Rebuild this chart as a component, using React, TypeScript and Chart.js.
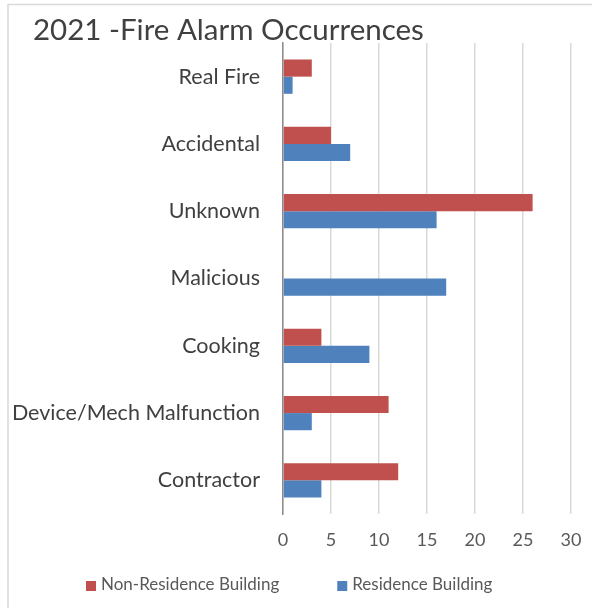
import { useEffect, useRef } from "react";
import { Chart, registerables } from "chart.js";

Chart.register(...registerables);

const TITLE = "2021 -Fire Alarm Occurrences";
const categories = [
  "Real Fire",
  "Accidental",
  "Unknown",
  "Malicious",
  "Cooking",
  "Device/Mech Malfunction",
  "Contractor",
];
const nonResidence = [3, 5, 26, 0, 4, 11, 12];
const residence = [1, 7, 16, 17, 9, 3, 4];
const seriesNames = ["Non-Residence Building", "Residence Building"];
const seriesColors = ["#C0504D", "#4F81BD"];
const xMin = 0;
const xMax = 30;
const xStep = 5;

const FONT = "Lato";

const decor = {
  id: "decor",
  beforeDraw(chart: any) {
    const ctx = chart.ctx;
    ctx.save();
    ctx.strokeStyle = "#d9d9d9";
    ctx.lineWidth = 1.5;
    ctx.strokeRect(8, 4.5, 700, 700);
    ctx.restore();
  },
  afterDraw(chart: any) {
    const ctx = chart.ctx;
    ctx.save();
    // title
    ctx.fillStyle = "#404040";
    ctx.font = `29.5px ${FONT}`;
    ctx.textBaseline = "alphabetic";
    ctx.textAlign = "left";
    ctx.fillText(TITLE, 33, 40);
    // legend
    ctx.font = `17px ${FONT}`;
    ctx.textBaseline = "middle";
    const box = 10;
    const gapBoxText = 5;
    const gapItems = 58;
    const ds = chart.data.datasets;
    const widths = ds.map(
      (d: any) => box + gapBoxText + ctx.measureText(d.label).width
    );
    const total =
      widths.reduce((a: number, b: number) => a + b, 0) +
      gapItems * (ds.length - 1);
    let x = Math.round(289 - total / 2);
    const cy = 585;
    ds.forEach((d: any, i: number) => {
      ctx.fillStyle = d.backgroundColor;
      ctx.fillRect(x, cy - box / 2 + 1, box, box);
      ctx.fillStyle = "#595959";
      ctx.fillText(d.label, x + box + gapBoxText, cy);
      x += widths[i] + gapItems;
    });
    ctx.restore();
  },
};

export default function App() {
  const ref = useRef<HTMLCanvasElement | null>(null);

  useEffect(() => {
    if (!ref.current) return;
    const chart = new Chart(ref.current, {
      type: "bar",
      data: {
        labels: categories,
        datasets: [
          {
            label: seriesNames[0],
            data: nonResidence,
            backgroundColor: seriesColors[0],
            borderWidth: 0,
          },
          {
            label: seriesNames[1],
            data: residence,
            backgroundColor: seriesColors[1],
            borderWidth: 0,
          },
        ],
      },
      options: {
        indexAxis: "y",
        responsive: false,
        animation: false,
        layout: { padding: { top: 43, right: 21, bottom: 0, left: 0 } },
        datasets: {
          bar: { categoryPercentage: 0.51, barPercentage: 1 },
        },
        plugins: {
          legend: { display: false },
          title: { display: false },
          tooltip: { enabled: false },
        },
        scales: {
          x: {
            min: xMin,
            max: xMax,
            ticks: {
              stepSize: xStep,
              color: "#595959",
              font: { family: FONT, size: 18 },
              padding: 15,
            },
            grid: {
              color: "#d9d9d9",
              lineWidth: 1.5,
              drawTicks: false,
            },
            border: { display: false },
            afterFit: (scale: any) => {
              scale.height = 94;
              scale.paddingRight = 0;
              scale.paddingLeft = 0;
            },
          },
          y: {
            ticks: {
              color: "#404040",
              font: { family: FONT, size: 21.5 },
              padding: 23,
            },
            grid: { display: false, drawTicks: false },
            border: { display: true, color: "#8c8c8c", width: 1.5 },
            afterFit: (scale: any) => {
              scale.width = 283;
            },
          },
        },
      },
      plugins: [decor],
    });
    return () => chart.destroy();
  }, []);

  return (
    <div
      style={{
        position: "absolute",
        left: 0,
        top: 0,
        width: 592,
        height: 608,
        overflow: "hidden",
        background: "#fff",
      }}
    >
      <canvas ref={ref} width={592} height={608} />
    </div>
  );
}
